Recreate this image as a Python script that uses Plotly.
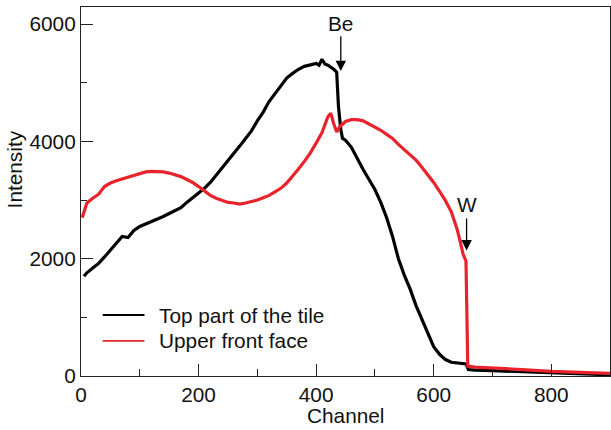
import plotly.graph_objects as go

# ---- data ----
top_ch = [5, 10, 20, 30, 40, 50, 60, 70, 80, 90, 100, 110, 120, 130, 140, 150, 160, 170, 180, 190,
          200, 210, 220, 230, 240, 250, 260, 270, 280, 290, 300, 310, 320, 330, 340, 350, 360, 370,
          380, 390, 400, 405, 410, 415, 420, 430, 435, 438, 442, 445, 450, 460, 470, 480, 490, 500,
          510, 520, 530, 540, 550, 560, 570, 580, 590, 600, 610, 620, 630, 640, 650, 655, 659, 670,
          700, 750, 800, 850, 900]
top_int = [1700, 1760, 1840, 1920, 2030, 2150, 2250, 2380, 2360, 2480, 2550, 2590, 2640, 2680, 2720,
           2770, 2820, 2870, 2960, 3040, 3130, 3200, 3300, 3420, 3560, 3660, 3780, 3920, 4050, 4180,
           4350, 4500, 4680, 4820, 4960, 5080, 5160, 5230, 5280, 5310, 5330, 5300, 5400, 5320, 5300,
           5230, 5180, 4600, 4200, 4050, 4020, 3900, 3700, 3520, 3350, 3180, 2960, 2700, 2380, 2000,
           1720, 1480, 1200, 960, 710, 500, 370, 280, 235, 220, 210, 205, 110, 100, 90, 70, 55, 35, 20]

front_ch = [2, 5, 10, 20, 30, 40, 50, 60, 70, 80, 90, 100, 110, 120, 130, 140, 150, 160, 170, 180,
            190, 200, 210, 220, 230, 240, 250, 260, 270, 280, 290, 300, 310, 320, 330, 340, 350, 360,
            370, 380, 390, 400, 410, 420, 425, 430, 435, 440, 450, 460, 470, 480, 490, 500, 510, 520,
            530, 540, 550, 560, 570, 580, 590, 600, 610, 620, 630, 640, 645, 650, 655, 658, 670, 700,
            750, 800, 850, 900]
front_int = [2700, 2800, 2950, 3030, 3100, 3230, 3290, 3330, 3360, 3400, 3430, 3460, 3480, 3490, 3490,
             3480, 3460, 3430, 3400, 3350, 3300, 3230, 3150, 3080, 3030, 2990, 2960, 2950, 2930, 2950,
             2970, 3000, 3040, 3080, 3140, 3200, 3290, 3400, 3530, 3660, 3800, 3970, 4150, 4420, 4480,
             4300, 4160, 4250, 4340, 4370, 4370, 4350, 4300, 4250, 4190, 4120, 4050, 3950, 3860, 3770,
             3680, 3560, 3440, 3300, 3150, 2990, 2800, 2500, 2300, 2080, 1960, 170, 150, 130, 110, 80,
             60, 45]

series_names = ["Top part of the tile", "Upper front face"]
series_colors = ["#000000", "#e8232b"]

x_ticks = [0, 200, 400, 600, 800]
y_ticks = [0, 2000, 4000, 6000]

# arrows: (label, channel, tip intensity, tail intensity, text intensity)
markers = [("Be", 442, 5200, 5820, 6010), ("W", 656, 2140, 2710, 2920)]

FONT = "Liberation Sans, Arial, Helvetica, sans-serif"
FS = 20.8

fig = go.Figure()
fig.add_trace(go.Scatter(x=top_ch, y=top_int, mode="lines", name=series_names[0],
                         line=dict(color=series_colors[0], width=3.2), showlegend=False))
fig.add_trace(go.Scatter(x=front_ch, y=front_int, mode="lines", name=series_names[1],
                         line=dict(color=series_colors[1], width=3.2), showlegend=False))

# manual legend
leg_y = [1040, 600]
for name, col, yy in zip(series_names, series_colors, leg_y):
    fig.add_shape(type="line", xref="x", yref="y", x0=37, x1=108, y0=yy, y1=yy,
                  line=dict(color=col, width=1.8))
    fig.add_annotation(x=130, y=yy, xref="x", yref="y", text=name, showarrow=False,
                       xanchor="left", yanchor="middle", font=dict(size=FS, color="#111", family=FONT))

for lab, ch, tip, tail, ty in markers:
    fig.add_annotation(x=ch, y=tip, ax=ch, ay=tail, xref="x", yref="y", axref="x", ayref="y",
                       text="", showarrow=True, arrowhead=2, arrowsize=1.6, arrowwidth=1.3,
                       arrowcolor="#000")
    fig.add_annotation(x=ch, y=ty, xref="x", yref="y", text=lab, showarrow=False,
                       xanchor="center", yanchor="middle", font=dict(size=FS, color="#111", family=FONT))

# axis titles
fig.add_annotation(x=0.5005, y=-0.108, xref="paper", yref="paper", text="Channel", showarrow=False,
                   xanchor="center", yanchor="middle", font=dict(size=FS, color="#111", family=FONT))
fig.add_annotation(x=-0.124, y=0.561, xref="paper", yref="paper", text="Intensity", showarrow=False,
                   textangle=-90, xanchor="center", yanchor="middle",
                   font=dict(size=FS, color="#111", family=FONT))

axis_common = dict(showline=True, linecolor="#222", linewidth=1.2, mirror=True, showgrid=False,
                   zeroline=False, ticks="inside", ticklen=12, tickwidth=1, tickcolor="#222",
                   tickfont=dict(size=FS, color="#111", family=FONT))
fig.update_xaxes(range=[0, 900], tickvals=x_ticks, ticktext=[str(v) for v in x_ticks],
                 minor=dict(ticks="inside", ticklen=7, tickwidth=1, tickcolor="#222", dtick=100, tick0=0),
                 **axis_common)
fig.update_yaxes(range=[0, 6292], tickvals=y_ticks, ticktext=[str(v) for v in y_ticks],
                 minor=dict(ticks="inside", ticklen=6, tickwidth=1, tickcolor="#222", dtick=1000, tick0=0),
                 **axis_common)

fig.update_layout(width=611, height=430, margin=dict(l=81, r=1, t=7, b=54),
                  paper_bgcolor="white", plot_bgcolor="white", font=dict(family=FONT))
fig.write_html("out.html")
